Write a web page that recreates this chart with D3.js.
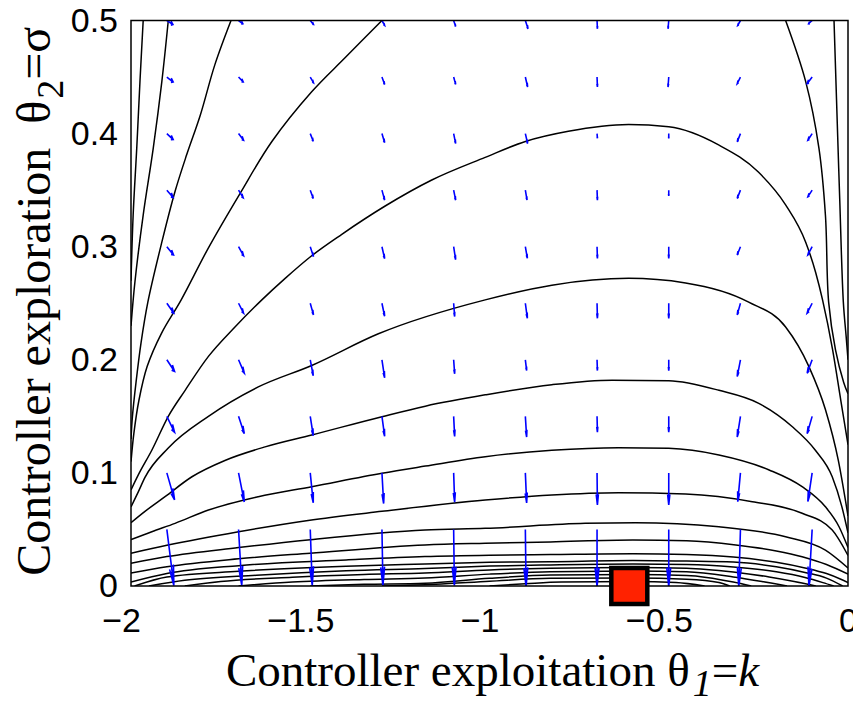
<!DOCTYPE html>
<html>
<head>
<meta charset="utf-8">
<script src="https://cdn.jsdelivr.net/npm/d3@7"></script>
<style>
  html, body { margin: 0; padding: 0; background: #fff; }
  svg { display: block; }
</style>
</head>
<body>
<svg class="js-render-chart" width="853" height="703"></svg>
<script>
"use strict";

//data

const kTicks = [-2, -1.5, -1, -0.5, 0];
const sigmaTicks = [0, 0.1, 0.2, 0.3, 0.4, 0.5];

//contour arches, [k, sigma], highest level first

const archLines = [
  [[-2, 0.085], [-1.98, 0.098], [-1.942, 0.120], [-1.896, 0.150], [-1.849, 0.173], [-1.784, 0.203], [-1.71, 0.229], [-1.635, 0.253], [-1.57, 0.272], [-1.496, 0.292], [-1.412, 0.311], [-1.291, 0.336], [-1.161, 0.359], [-1.012, 0.379], [-0.9, 0.393], [-0.78, 0.402], [-0.612, 0.408], [-0.5, 0.406], [-0.361, 0.390], [-0.25, 0.366], [-0.174, 0.337], [-0.118, 0.304], [-0.09, 0.277], [-0.071, 0.253], [-0.043, 0.209], [-0.02, 0.164], [0, 0.125]],
  [[-2, 0.07], [-1.98, 0.083], [-1.961, 0.096], [-1.896, 0.122], [-1.784, 0.150], [-1.645, 0.176], [-1.496, 0.195], [-1.31, 0.223], [-1.012, 0.253], [-0.826, 0.266], [-0.612, 0.272], [-0.453, 0.268], [-0.277, 0.251], [-0.174, 0.229], [-0.109, 0.194], [-0.063, 0.156], [-0.027, 0.111], [0, 0.062]],
  [[-2, 0.056], [-1.961, 0.066], [-1.905, 0.079], [-1.83, 0.0966], [-1.738, 0.111], [-1.626, 0.123], [-1.496, 0.1335], [-1.30, 0.1497], [-1.179, 0.159], [-1.012, 0.169], [-0.826, 0.178], [-0.658, 0.182], [-0.5, 0.1815], [-0.36, 0.173], [-0.249, 0.1615], [-0.156, 0.141], [-0.091, 0.120], [-0.044, 0.0966], [-0.017, 0.070], [0, 0.047]],
  [[-2, 0.041], [-1.942, 0.048], [-1.877, 0.0554], [-1.784, 0.0672], [-1.645, 0.079], [-1.496, 0.0878], [-1.30, 0.0997], [-1.179, 0.106], [-1.012, 0.1143], [-0.826, 0.120], [-0.64, 0.1223], [-0.5, 0.1217], [-0.36, 0.1158], [-0.22, 0.1026], [-0.128, 0.0878], [-0.063, 0.070], [-0.025, 0.0524], [0, 0.034]],
  [[-2, 0.029], [-1.9, 0.036], [-1.7, 0.048], [-1.506, 0.058], [-1.3, 0.066], [-1.012, 0.076], [-0.826, 0.0805], [-0.64, 0.0825], [-0.453, 0.0813], [-0.267, 0.0745], [-0.128, 0.0643], [-0.044, 0.0495], [0, 0.027]],
  [[-2, 0.020], [-1.9, 0.026], [-1.7, 0.034], [-1.5, 0.041], [-1.18, 0.0495], [-1.012, 0.051], [-0.733, 0.0554], [-0.593, 0.056], [-0.36, 0.0524], [-0.174, 0.0436], [-0.063, 0.0318], [0, 0.016]],
  [[-2, 0.0115], [-1.9, 0.017], [-1.7, 0.024], [-1.5, 0.029], [-1.18, 0.0363], [-1.012, 0.0378], [-0.83, 0.039], [-0.6, 0.0407], [-0.45, 0.040], [-0.313, 0.0363], [-0.2, 0.031], [-0.128, 0.0259], [-0.06, 0.019], [0, 0.0105]],
  [[-2, 0.0035], [-1.9, 0.011], [-1.7, 0.018], [-1.4, 0.023], [-1.18, 0.026], [-1.0, 0.0272], [-0.83, 0.0278], [-0.6, 0.0285], [-0.45, 0.0278], [-0.32, 0.0256], [-0.2, 0.021], [-0.12, 0.016], [-0.06, 0.011], [-0.02, 0.006], [0, 0.003]],
  [[-1.99, 0], [-1.9, 0.008], [-1.7, 0.013], [-1.4, 0.0175], [-1.18, 0.0195], [-1.0, 0.021], [-0.83, 0.0215], [-0.6, 0.0225], [-0.45, 0.022], [-0.32, 0.0212], [-0.2, 0.017], [-0.12, 0.012], [-0.06, 0.007], [-0.015, 0]],
  [[-1.95, 0], [-1.85, 0.005], [-1.65, 0.0095], [-1.4, 0.0135], [-1.18, 0.0155], [-1.0, 0.0176], [-0.83, 0.0186], [-0.6, 0.0194], [-0.45, 0.019], [-0.32, 0.0168], [-0.2, 0.0125], [-0.12, 0.0075], [-0.07, 0.003], [-0.04, 0]],
  [[-1.85, 0], [-1.75, 0.004], [-1.55, 0.0078], [-1.35, 0.0102], [-1.18, 0.0115], [-1.0, 0.0142], [-0.83, 0.0156], [-0.6, 0.0163], [-0.45, 0.0158], [-0.32, 0.0124], [-0.22, 0.008], [-0.15, 0.004], [-0.09, 0]],
  [[-1.7, 0], [-1.55, 0.0035], [-1.35, 0.0058], [-1.18, 0.007], [-1.0, 0.0105], [-0.83, 0.0126], [-0.6, 0.0132], [-0.45, 0.0125], [-0.32, 0.008], [-0.24, 0.004], [-0.17, 0]],
  [[-1.5, 0], [-1.35, 0.0015], [-1.18, 0.0025], [-1.0, 0.0068], [-0.83, 0.0097], [-0.6, 0.0101], [-0.45, 0.0093], [-0.32, 0.0035], [-0.27, 0]],
  [[-1.3, 0], [-1.15, 0.0015], [-1.0, 0.0042], [-0.83, 0.0068], [-0.6, 0.0071], [-0.45, 0.006], [-0.36, 0.003], [-0.33, 0]],
  [[-1.0, 0], [-0.9, 0.002], [-0.8, 0.0036], [-0.6, 0.004], [-0.48, 0.003], [-0.4, 0]]
];

//contours that leave through the top edge, [k, sigma]

const sideLines = [
  [[-1.966, 0.5], [-1.975, 0.446], [-1.984, 0.387], [-1.994, 0.328], [-2, 0.27]],
  [[-1.896, 0.5], [-1.914, 0.446], [-1.938, 0.387], [-1.966, 0.328], [-1.989, 0.269], [-2, 0.23]],
  [[-1.721, 0.5], [-1.766, 0.461], [-1.807, 0.416], [-1.845, 0.381], [-1.877, 0.349], [-1.914, 0.304], [-1.953, 0.251], [-1.972, 0.215], [-1.986, 0.18], [-1.996, 0.15], [-2, 0.13]],
  [[-1.30, 0.5], [-1.403, 0.467], [-1.496, 0.437], [-1.607, 0.393], [-1.696, 0.347], [-1.784, 0.299], [-1.86, 0.253], [-1.915, 0.2234], [-1.955, 0.194], [-1.978, 0.164], [-1.992, 0.135], [-2, 0.11]],
  [[-0.174, 0.5], [-0.118, 0.446], [-0.081, 0.387], [-0.063, 0.328], [-0.054, 0.251], [-0.035, 0.209], [-0.012, 0.18], [0, 0.17]],
  [[-0.039, 0.5], [-0.032, 0.43], [-0.023, 0.341], [-0.013, 0.251], [-0.005, 0.22], [0, 0.2]]
];

//gradient arrows: tails on the grid, components in data units

const arrowK = [-1.9, -1.7, -1.5, -1.3, -1.1, -0.9, -0.7, -0.5, -0.3, -0.1];
const arrowSigma = [0.5, 0.45, 0.4, 0.35, 0.3, 0.25, 0.2, 0.15, 0.1, 0.05];

const arrowDk = [
  [0.017, 0.012, 0.009, 0.0075, 0.0056, 0.0075, 0.001, -0.002, -0.0075, -0.010],
  [0.0176, 0.013, 0.009, 0.0075, 0.0056, 0.0064, 0.001, -0.002, -0.009, -0.014],
  [0.0176, 0.014, 0.0084, 0.0075, 0.0056, 0.0064, 0.001, 0, -0.009, -0.012],
  [0.0176, 0.013, 0.0084, 0.0075, 0.0056, 0.0047, 0.001, 0, -0.009, -0.012],
  [0.0187, 0.014, 0.009, 0.0075, 0.0056, 0.0056, 0.001, 0, -0.009, -0.012],
  [0.0195, 0.014, 0.009, 0.0075, 0.0028, 0.0056, 0.001, 0, -0.009, -0.014],
  [0.0215, 0.016, 0.0084, 0.0075, 0.0028, 0.0036, 0.001, 0, -0.009, -0.014],
  [0.0215, 0.016, 0.0084, 0.0075, 0.0028, 0.0036, 0.001, 0, -0.009, -0.014],
  [0.0215, 0.016, 0.0084, 0.0047, 0.0028, 0.0036, 0.001, 0, -0.0075, -0.012],
  [0.0195, 0.009, 0.0056, 0.0028, 0.002, 0.002, 0, 0, -0.0047, -0.009]
];

const arrowDs = [
  [-0.0035, -0.0029, -0.0035, -0.0044, -0.0053, -0.0073, -0.0073, -0.0073, -0.0044, -0.0029],
  [-0.0044, -0.0044, -0.005, -0.0065, -0.0065, -0.0088, -0.0088, -0.0088, -0.0059, -0.0059],
  [-0.0053, -0.0059, -0.0068, -0.008, -0.0088, -0.0088, -0.0042, -0.0042, -0.0073, -0.0059],
  [-0.0065, -0.0068, -0.0073, -0.0088, -0.0088, -0.0088, -0.0088, -0.005, -0.0073, -0.0059],
  [-0.0073, -0.008, -0.0088, -0.0106, -0.0115, -0.0103, -0.0103, -0.0103, -0.0073, -0.0073],
  [-0.0088, -0.0088, -0.0103, -0.0115, -0.0118, -0.0133, -0.0133, -0.0133, -0.0103, -0.0088],
  [-0.0103, -0.0118, -0.0141, -0.0159, -0.0124, -0.0095, -0.0095, -0.0095, -0.0148, -0.0118],
  [-0.0141, -0.0153, -0.0171, -0.0177, -0.0177, -0.0183, -0.0139, -0.0139, -0.0183, -0.0153],
  [-0.0239, -0.0256, -0.0265, -0.0271, -0.0259, -0.0265, -0.0283, -0.0283, -0.0254, -0.0254],
  [-0.0495, -0.0495, -0.0495, -0.0495, -0.0495, -0.0504, -0.0504, -0.0504, -0.0504, -0.0504]
];

//optimum marker

const optimum = [-0.61, 0];

//svg params

const params = {
  w: 853,
  h: 703,
  m: { t: 20.5, r: 5, b: 117, l: 131 }
};

params.pw = params.w - params.m.l - params.m.r;
params.ph = params.h - params.m.t - params.m.b;

const { m, pw, ph } = params;

const x = d3.scaleLinear().domain([-2, 0]).range([0, pw]);
const y = d3.scaleLinear().domain([0, 0.5]).range([ph, 0]);

const svg = d3.select(".js-render-chart");

svg.append("defs")
  .append("clipPath")
  .attr("id", "plot-clip")
  .append("rect")
  .attr("width", pw)
  .attr("height", ph);

const chart = svg.append("g")
  .attr("transform", `translate(${m.l}, ${m.t})`);

//contours

const plot = chart.append("g")
  .attr("clip-path", "url(#plot-clip)");

const archLine = d3.line()
  .x((d) => x(d[0]))
  .y((d) => y(d[1]))
  .curve(d3.curveMonotoneX);

const sideLine = d3.line()
  .x((d) => x(d[0]))
  .y((d) => y(d[1]))
  .curve(d3.curveCatmullRom.alpha(0.5));

plot.selectAll(".arch")
  .data(archLines)
  .join("path")
  .attr("class", "arch")
  .attr("d", archLine)
  .attr("fill", "none")
  .attr("stroke", "#000")
  .attr("stroke-width", 1.5);

plot.selectAll(".side")
  .data(sideLines)
  .join("path")
  .attr("class", "side")
  .attr("d", sideLine)
  .attr("fill", "none")
  .attr("stroke", "#000")
  .attr("stroke-width", 1.5);

//quiver, heads built in data units like matlab

const arrows = [];
arrowSigma.forEach((s, r) => {
  arrowK.forEach((k, c) => {
    arrows.push({ k, s, u: arrowDk[r][c], v: arrowDs[r][c] });
  });
});

const alpha = 0.33;
const beta = 0.33;

const arrowPath = (a) => {
  const tk = a.k + a.u;
  const ts = a.s + a.v;
  const h1k = tk - alpha * (a.u + beta * a.v);
  const h1s = ts - alpha * (a.v - beta * a.u);
  const h2k = tk - alpha * (a.u - beta * a.v);
  const h2s = ts - alpha * (a.v + beta * a.u);
  return `M${x(a.k)},${y(a.s)}L${x(tk)},${y(ts)}` +
    `M${x(h1k)},${y(h1s)}L${x(tk)},${y(ts)}L${x(h2k)},${y(h2s)}`;
};

plot.selectAll(".arrow")
  .data(arrows)
  .join("path")
  .attr("class", "arrow")
  .attr("d", arrowPath)
  .attr("fill", "none")
  .attr("stroke", "#0000ff")
  .attr("stroke-width", 1.6)
  .attr("stroke-linejoin", "miter");

//frame

chart.append("rect")
  .attr("width", pw)
  .attr("height", ph)
  .attr("fill", "none")
  .attr("stroke", "#000")
  .attr("stroke-width", 1.5);

//axes

const tickFont = 34;

const tickFmt = (d) => (d < 0 ? "\u2212" : "") + String(Math.abs(d));

const xa = d3.axisBottom(x)
  .tickValues(kTicks)
  .tickSize(0)
  .tickPadding(22)
  .tickFormat(tickFmt);

const ya = d3.axisLeft(y)
  .tickValues(sigmaTicks)
  .tickSize(0)
  .tickPadding(13)
  .tickFormat((d) => String(d));

const styleAxis = (g) => {
  g.select(".domain").remove();
  g.selectAll("text")
    .attr("fill", "#000")
    .style("font-family", "'Liberation Sans', Arial, Helvetica, sans-serif")
    .style("font-size", `${tickFont}px`);
};

//matlab centres the digits and hangs the minus sign in front

chart.append("g")
  .attr("transform", `translate(0, ${ph})`)
  .call(xa)
  .call(styleAxis)
  .selectAll("text")
  .attr("dx", (d) => (d < 0 ? -0.29 * tickFont : 0));

chart.append("g")
  .call(ya)
  .call(styleAxis);

//marker

chart.append("rect")
  .attr("x", x(optimum[0]) - 18)
  .attr("y", y(optimum[1]) - 18)
  .attr("width", 36)
  .attr("height", 36)
  .attr("fill", "#ff2200")
  .attr("stroke", "#000")
  .attr("stroke-width", 4.5);

//axis titles

const serif = "'Liberation Serif', 'Times New Roman', serif";

const xt = svg.append("text")
  .attr("x", m.l + pw / 2 + 3)
  .attr("y", 686)
  .attr("text-anchor", "middle")
  .style("font-family", serif)
  .style("font-size", "47px")
  .attr("fill", "#000");

xt.append("tspan").text("Controller exploitation \u03b8");
xt.append("tspan").attr("dy", 10).attr("dx", 3).style("font-style", "italic").style("font-size", "38px").text("1");
xt.append("tspan").attr("dy", -10).text("=");
xt.append("tspan").style("font-style", "italic").text("k");

const yt = svg.append("text")
  .attr("transform", `translate(50, ${m.t + ph / 2 - 2}) rotate(-90)`)
  .attr("text-anchor", "middle")
  .style("font-family", serif)
  .style("font-size", "48px")
  .attr("fill", "#000");

yt.append("tspan").text("Controller exploration\u00a0\u00a0\u03b8");
yt.append("tspan").attr("dy", 13).attr("dx", 2).style("font-size", "38px").text("2");
yt.append("tspan").attr("dy", -13).text("=\u03c3");

</script>
</body>
</html>
